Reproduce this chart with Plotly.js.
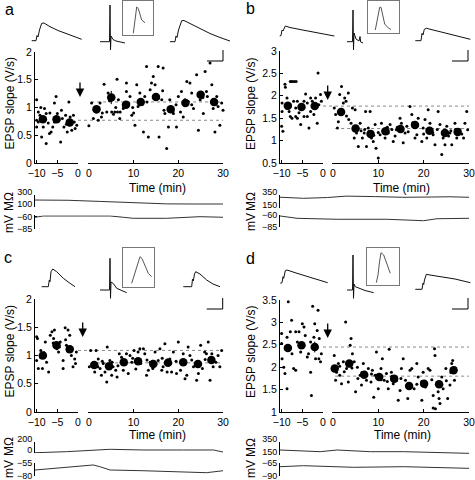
<!DOCTYPE html>
<html><head><meta charset="utf-8">
<script src="https://cdn.plot.ly/plotly-3.0.1.min.js"></script>
<style>html,body{margin:0;padding:0;background:#fff}#chart{width:475px;height:480px}</style>
</head><body><div id="chart"></div>
<script>
// ---------------- DATA ----------------
// Panel a
const aDotsPre = [[-10,1.14],[-9.6,0.92],[-9.2,0.86],[-10,0.65],[-10,0.77],[-7.7,0.89],[-8.1,0.98],[-8.8,0.47],[-7.7,0.35],[-6.5,0.56],[-6.1,0.65],[-5.3,1.2],[-5.7,1.08],[-4.6,0.77],[-4.2,0.38],[-3.4,0.65],[-3.8,0.8],[-3.0,0.86],[-2.2,1.1],[-1.9,0.83],[-1.1,0.86],[-1.5,0.59],[-0.7,0.62],[-0.3,0.68],[-2.6,0.56],[-6.9,0.53],[-5.7,0.74],[-5.0,0.89],[-9.6,0.74],[-8.4,0.65],[-8.7,0.82],[-8.0,0.78],[-5.2,0.82],[-4.8,0.75],[-2.3,0.72],[-1.7,0.76],[-9.0,1.0],[-7.2,0.72],[-6.8,0.9],[-4.0,0.95],[-2.8,0.7],[-0.9,0.74]];
const aDotsPost = [[0,0.67],[0.6,1.08],[1.0,0.80],[1.7,0.92],[2.1,0.77],[2.8,0.83],[3.4,1.42],[2.5,1.08],[4.0,0.92],[4.3,1.26],[5.1,0.92],[5.8,0.92],[6.3,1.51],[6.6,1.14],[6.9,0.80],[7.7,0.98],[8.4,1.44],[8.4,1.29],[9.2,1.20],[9.6,0.86],[10.3,0.68],[10.7,1.41],[11.0,1.02],[11.4,1.26],[12.2,0.56],[12.5,1.20],[12.9,1.74],[13.3,0.47],[13.7,1.32],[14.0,1.44],[14.4,1.56],[14.8,1.41],[15.5,1.74],[15.7,0.47],[16.3,1.14],[16.6,1.71],[17.0,0.89],[17.4,0.26],[17.8,0.65],[18.1,1.14],[18.9,0.89],[19.6,0.65],[20.0,1.20],[20.7,1.29],[21.1,0.83],[21.5,1.14],[21.9,1.47],[22.6,1.44],[23.0,1.26],[23.4,0.98],[24.1,1.59],[24.5,0.59],[24.9,1.14],[25.6,0.89],[26.0,1.65],[26.3,1.29],[27.1,1.80],[27.5,1.41],[27.8,0.98],[28.2,0.56],[28.6,1.20],[28.9,1.02],[29.3,0.68],[29.7,1.08],[30,0.95],[1.2,0.95],[2.2,0.99],[4.6,1.12],[5.3,1.22],[7.8,1.02],[8.9,1.07],[11.2,1.12],[12.0,1.06],[14.6,1.22],[15.5,1.16],[18.0,0.99],[18.8,0.93],[21.3,1.06],[22.2,1.11],[24.6,1.25],[25.5,1.18],[27.6,1.12],[28.4,1.06],[3.0,0.90],[6.0,1.00],[9.8,1.00],[13.0,1.10],[16.5,1.30],[19.5,1.05],[23.0,1.05],[26.5,1.20],[10.0,0.90],[20.5,0.92],[5.5,0.88],[16.8,0.95],[6.4,0.92],[7.0,0.92]];
const aMeanT = [-8.5,-5.2,-2,1.7,5,8.3,11.6,15,18.3,21.6,25,28];
const aMeanV = [0.79,0.79,0.73,0.97,1.18,1.05,1.10,1.19,0.97,1.08,1.23,1.10];
const aMeanErr = [0.04,0.05,0.05,0.05,0.12,0.05,0.04,0.06,0.05,0.05,0.05,0.06];
const aBaseline = 0.77, aPostLevel = 1.10;
const aRinT = [-10,-3,4,11,18,24,30];
const aRin = [214,210,190,168,148,146,146];
const aVmT = [-10,-8.2,0.3,6,8.8,10.9,18,22.3,25.1,30];
const aVm = [-61.2,-58.6,-58.6,-58.6,-61.2,-63.3,-63.3,-62,-60,-61.2];
const aWavePre = [[1.7,3.3],[6,3.3],[7,8.5],[8,7],[9.5,14],[11.7,20.7],[14,21],[20,17.3],[28,13.5],[36.7,10],[44,7.2],[51.7,4.7]];
const aWaveSpike = [[2,10.3],[11.5,10.3],[12,47],[12.5,2],[13,16],[15,12.5],[18,11],[27,9]];
const aWaveInset = [[10.6,1.7],[12.3,15],[14,28],[15.6,26.5],[17.3,20],[19,15],[22.3,12.3]];
const aWavePost = [[2,2.3],[7,2.3],[8,8],[9,6.5],[10.5,14],[13.7,23.3],[16,23.5],[22,20.5],[32,15],[42,10.5],[52,6.5],[62,3]];

// Panel b
const bDotsPre = [[-10,1.32],[-9.9,1.65],[-9.7,1.21],[-9.2,2.26],[-9.1,2.19],[-8.7,1.95],[-7.9,2.32],[-7.5,2.32],[-7.0,2.32],[-6.5,2.32],[-8.2,1.65],[-7.9,1.54],[-7.1,1.88],[-6.6,1.73],[-6.2,1.5],[-5.8,1.62],[-5.4,1.36],[-4.6,1.54],[-4.2,2.04],[-3.8,1.84],[-3.4,1.28],[-3.0,1.65],[-3.0,1.95],[-2.6,1.88],[-2.2,1.58],[-1.4,1.39],[-1.2,2.51],[-1.0,1.8],[-0.6,2.03],[-0.4,1.88],[-7.5,1.5],[-6.6,1.54],[-6.2,1.88],[-4.6,1.88],[-3.8,1.54],[-9.9,1.84],[-8.8,1.72],[-5.0,1.7],[-2.0,1.72],[-1.8,1.95]];
const bDotsPost = [[0.3,1.73],[0.6,1.58],[1.0,1.28],[1.2,1.42],[1.5,2.03],[1.9,2.21],[2.3,1.84],[2.6,1.95],[2.9,1.88],[3.4,2.06],[3.5,1.47],[4.0,1.39],[4.3,1.73],[4.7,1.06],[4.9,1.69],[5.2,1.17],[5.6,0.87],[6.0,1.39],[6.5,1.06],[6.9,1.17],[7.2,1.65],[7.4,0.87],[7.8,1.28],[8.2,1.65],[8.5,1.06],[8.9,0.98],[9.3,1.36],[9.5,0.83],[10.0,0.61],[10.4,1.13],[10.7,1.39],[11.5,1.06],[11.8,1.28],[12.2,1.17],[12.6,1.36],[13.3,0.98],[13.7,1.10],[14.0,1.24],[14.8,1.50],[15.1,1.39],[15.5,0.95],[15.9,1.17],[16.3,1.32],[17.0,1.76],[17.4,1.58],[17.7,1.32],[18.1,1.06],[18.5,1.13],[18.8,1.50],[19.6,0.98],[19.9,1.28],[20.3,1.47],[20.7,1.06],[21.0,1.69],[21.4,1.39],[22.1,1.13],[22.5,0.91],[23.2,1.65],[23.6,1.36],[24.0,0.69],[24.3,1.06],[24.7,0.91],[25.1,1.32],[25.8,1.17],[26.2,0.91],[26.9,1.39],[27.3,1.06],[28.0,1.24],[28.8,1.06],[29.1,1.39],[29.5,1.65],[29.7,1.24],[5.4,1.30],[6.2,1.22],[8.0,1.20],[9.0,1.12],[11.0,1.22],[12.0,1.30],[14.2,1.30],[15.3,1.22],[17.6,1.40],[18.4,1.32],[21.0,1.25],[22.0,1.18],[24.2,1.20],[25.5,1.10],[27.0,1.25],[28.4,1.15],[2.0,1.70],[3.0,1.55],[7.0,1.25],[10.0,1.18],[13.0,1.25],[16.6,1.20],[20.0,1.15],[23.0,1.25],[26.0,1.22]];
const bMeanT = [-8.5,-5.2,-2,1.8,5.0,8.3,11.6,14.9,18.1,21.3,24.7,27.5];
const bMeanV = [1.78,1.75,1.77,1.64,1.27,1.15,1.21,1.26,1.35,1.22,1.17,1.19];
const bMeanErr = [0.06,0.05,0.08,0.06,0.05,0.04,0.04,0.04,0.05,0.05,0.04,0.04];
const bBaseline = 1.77, bPostLevel = 1.27;
const bRinT = [-10,-5,0,4,10,16,22,26,30];
const bRin = [315,298,310,332,325,314,318,322,314];
const bVmT = [-10,-6.4,2.1,12.6,20.4,23.2,30];
const bVm = [-62,-66.7,-68.7,-68.7,-71.6,-67.6,-66.7];
const bWavePre = [[2.7,4],[4,4.5],[5,10],[6,9],[8.3,14],[13,12.5],[23,10.5],[33,8.5],[43,6.5],[57.3,4]];
const bWaveSpike = [[2,10.3],[7.5,10.3],[8,42],[8.5,2],[9,19],[11,13],[14,11],[15,15.5],[15.7,10],[18,9]];
const bWaveInset = [[7.3,2.7],[9.7,14.4],[11.7,25.4],[13,25.4],[14.7,16],[16.7,8.7],[20.7,4.4],[23,3.4]];
const bWavePost = [[2.3,2.3],[8,2.3],[9,9.7],[10,8],[11.3,13.7],[13.3,14.7],[35,9.3],[57.3,3.7]];

// Panel c
const cDotsPre = [[-10,1.33],[-9.8,1.30],[-10,0.91],[-9.6,0.77],[-9.0,1.09],[-8.6,0.77],[-7.9,1.24],[-7.6,0.88],[-7.1,0.71],[-6.7,1.36],[-6.3,1.42],[-5.9,1.30],[-5.7,1.45],[-5.1,1.12],[-4.7,1.06],[-4.3,1.24],[-3.6,0.91],[-3.6,0.77],[-3.1,1.49],[-2.8,1.18],[-2.4,1.45],[-2.0,1.36],[-1.6,1.00],[-1.2,0.80],[-0.8,0.94],[-0.6,0.86],[-0.4,1.06],[-5.0,1.20],[-4.5,1.15],[-2.5,1.08],[-1.8,1.15],[-8.2,1.05],[-9.0,0.96],[-6.0,1.22],[-3.0,1.28]];
const cDotsPost = [[0.1,0.80],[0.4,1.09],[0.8,0.86],[1.3,0.71],[1.6,1.09],[2.1,0.94],[2.5,0.77],[2.8,0.65],[3.2,0.86],[3.6,0.71],[4.0,0.53],[4.1,1.15],[4.7,0.91],[5.1,0.65],[5.4,0.80],[6.0,0.74],[6.3,0.62],[6.8,1.03],[7.3,0.97],[7.7,0.74],[8.4,1.03],[8.8,0.68],[9.2,1.00],[9.6,0.88],[10.1,1.09],[10.5,0.76],[11.0,1.06],[11.4,1.12],[12.2,1.12],[12.5,1.03],[12.9,0.65],[13.3,0.74],[13.7,0.88],[14.3,0.77],[14.8,1.06],[15.5,0.91],[15.9,1.12],[16.3,0.74],[16.6,0.80],[17.0,1.21],[17.5,0.71],[18.1,0.94],[18.5,0.71],[18.9,1.06],[19.6,0.68],[20.0,1.24],[20.5,0.74],[21.1,1.03],[21.5,0.59],[21.9,0.65],[22.2,1.15],[22.6,1.00],[23.4,0.80],[24.1,0.56],[24.5,0.68],[25.0,1.18],[25.4,0.77],[25.9,1.06],[26.3,1.03],[26.7,1.24],[27.1,0.56],[27.5,1.03],[27.8,0.80],[28.4,0.88],[28.9,1.00],[29.3,0.80],[29.7,1.09],[1.5,0.86],[2.0,0.80],[4.5,0.84],[5.2,0.88],[7.5,0.92],[8.3,0.85],[10.8,0.93],[11.6,0.86],[14.2,0.90],[15.0,0.85],[17.5,0.92],[18.3,0.86],[20.7,0.90],[21.5,0.85],[24.0,0.88],[24.8,0.82],[27.0,0.95],[28.0,0.90],[3.0,0.90],[6.5,0.82],[9.8,0.95],[13.0,0.92],[16.4,0.95],[19.5,0.90],[23.0,0.92],[26.0,0.93]];
const cMeanT = [-8.5,-5.2,-2,1.2,4.5,7.8,11.0,14.4,17.7,21.1,24.4,27.4];
const cMeanV = [1.00,1.18,1.11,0.83,0.81,0.88,0.90,0.85,0.87,0.88,0.85,0.92];
const cMeanErr = [0.05,0.06,0.06,0.03,0.04,0.03,0.03,0.03,0.03,0.03,0.03,0.04];
const cBaseline = 1.09, cPostLevel = 0.87;
const cRinT = [-10,-3.3,6,13,21.6,28,30];
const cRin = [10,28,69,57,57,57,22];
const cVmT = [-10,-3.3,2.4,3.8,6,13,21.6,26.5,30];
const cVm = [-68.2,-62.9,-58.3,-61.7,-68.2,-69.6,-71.5,-73.5,-69.6];
const cWavePre = [[2.7,2.3],[9.3,2.3],[10.3,9],[11,7.3],[12,17.3],[13.7,20],[17.7,17.3],[24.3,10.7],[31,5.7],[36,2.3]];
const cWaveSpike = [[2,10],[11.5,10],[12,41.7],[12.5,1.7],[13,18],[15.3,16.5],[18.7,11.7],[28.7,7.3]];
const cWaveInset = [[9,4],[12.3,15.3],[15.3,26.3],[17.3,30.6],[19.3,28.8],[22.3,21.3],[25.6,14],[29,10.6]];
const cWavePost = [[2.3,2.3],[10.7,2.3],[11.5,10],[12.3,8],[13.5,15],[14.7,17.3],[19,15],[25.7,9],[32,5],[39,2.3]];

// Panel d
const dDotsPre = [[-10,2.75],[-10,2.53],[-9.9,2.19],[-9.5,2.00],[-9.2,1.86],[-8.7,1.52],[-8.4,3.46],[-8.7,2.67],[-7.9,2.79],[-7.6,3.05],[-7.5,2.30],[-7.1,1.97],[-6.6,1.93],[-6.2,2.56],[-5.8,2.79],[-5.4,2.34],[-5.0,2.97],[-4.6,2.90],[-4.3,2.71],[-3.8,2.23],[-3.5,2.30],[-3.0,1.89],[-2.8,1.37],[-2.5,3.36],[-2.2,2.67],[-2.0,2.97],[-1.8,2.19],[-1.4,2.82],[-1.2,3.27],[-1.0,2.19],[-0.9,2.64],[-0.6,2.12],[-0.4,2.30],[-3.0,2.56],[-6.6,2.79],[-9.0,2.45]];
const dDotsPost = [[0.3,2.26],[0.6,1.71],[0.8,1.89],[1.2,2.08],[1.5,1.82],[1.9,1.63],[2.3,2.12],[2.8,3.01],[3.0,1.97],[3.4,1.67],[3.8,2.49],[4.0,2.64],[4.3,2.30],[4.7,2.12],[5.0,1.45],[5.4,2.00],[6.0,1.82],[6.3,1.60],[6.7,2.08],[7.1,1.89],[7.4,1.71],[7.8,1.97],[8.4,1.67],[8.7,1.93],[9.0,1.33],[9.3,1.82],[9.6,2.34],[10.0,1.52],[10.6,1.97],[10.9,2.19],[11.3,1.71],[11.8,1.86],[12.2,1.52],[12.4,2.40],[12.9,1.89],[13.3,1.63],[13.8,1.78],[14.4,1.26],[14.8,1.48],[15.1,1.97],[15.5,2.19],[16.0,1.71],[16.5,1.30],[17.0,1.93],[17.4,1.97],[17.9,1.52],[18.5,2.08],[18.8,1.78],[19.6,1.26],[19.9,1.89],[20.4,1.56],[21.0,1.97],[21.4,1.93],[22.1,1.37],[22.4,2.41],[22.5,2.26],[22.9,1.63],[23.2,1.45],[23.4,1.30],[22.1,1.09],[22.6,1.07],[23.6,1.19],[24.0,1.78],[24.3,1.52],[24.9,1.97],[25.3,1.30],[25.8,1.60],[26.2,2.08],[26.4,2.15],[26.8,1.71],[27.1,1.93],[0.8,1.98],[1.5,2.02],[3.2,2.10],[4.2,1.98],[6.4,1.88],[7.2,1.80],[9.8,1.80],[10.6,1.72],[13.0,1.80],[14.0,1.70],[16.4,1.62],[17.2,1.58],[19.6,1.68],[20.6,1.60],[23.0,1.66],[24.0,1.60],[26.0,1.88],[27.0,1.98],[2.5,1.90],[5.5,1.75],[8.5,1.85],[12.0,1.68],[15.0,1.75],[18.5,1.62],[21.8,1.72],[25.0,1.70]];
const dMeanT = [-8.5,-5.2,-2,0.4,3.6,6.9,10.2,13.5,16.8,20.1,23.4,26.6];
const dMeanV = [2.43,2.49,2.45,1.97,2.08,1.83,1.78,1.74,1.58,1.63,1.62,1.93];
const dMeanErr = [0.08,0.06,0.12,0.05,0.07,0.05,0.05,0.05,0.05,0.05,0.05,0.07];
const dBaseline = 2.45, dPostLevel = 1.80;
const dRinT = [-10,-1.5,2.1,9.1,16.2,23.2,30];
const dRin = [225,200,225,200,200,185,175];
const dVmT = [-10,-5,5.6,16.2,30];
const dVm = [-71.7,-69.7,-72.9,-71.7,-74.9];
const dWavePre = [[2.3,2.7],[4,3.3],[5,9.3],[5.7,7.7],[7.3,15.3],[9,16],[19,12.7],[32.3,8.3],[49.7,3.3]];
const dWaveSpike = [[2,10],[7.5,10],[8,45],[8.5,1.7],[9,16],[10.3,13.3],[13.7,11.7],[20,9.5],[28.7,7.3]];
const dWaveInset = [[9.3,2.3],[11,10],[12.5,23],[14,32.3],[16.7,30],[19,23],[21,18],[23.3,11.7]];
const dWavePost = [[2.3,2.7],[9,2.7],[10,9],[10.7,7.5],[11.5,12],[13.3,17.7],[17,17],[27,15.2],[42,13],[57.3,9.3]];

const yTitle = 'EPSP slope (V/s)', xTitle = 'Time (min)', rinTitle = 'MΩ', vmTitle = 'mV';
const preTicks = [-10,-5,0], postTicks = [0,10,20,30];

// ---------------- LAYOUT (pixel boxes) ----------------
const W = 475, H = 480;
const fx = p => p / W, fy = p => 1 - p / H;
const FONT = 'Liberation Sans, Arial, Helvetica, sans-serif';

const panels = [
  {letter:'a', dotsPre:aDotsPre, dotsPost:aDotsPost, mT:aMeanT, mV:aMeanV, mE:aMeanErr, base:aBaseline, post:aPostLevel,
   rinT:aRinT, rin:aRin, vmT:aVmT, vm:aVm, waves:[aWavePre,aWaveSpike,aWaveInset,aWavePost],
   L:[35,78], R:[88,223], Y:[52,163], yr:[0,2], yt:[0,0.5,1,1.5,2],
   rinBox:[195,206.7], rinR:[100,300], vmBox:[215.2,229], vmR:[-85,-57], vmTicks:[-85,-60],
   boxes:[[30,84,20,44],[98,128,3,52],[122.7,153.3,0.5,35],[168,232,18,44]],
   bar:[207,223,50,61], arrow:[80,97], letterPos:[2.5,9], yTitlePos:[9.5,104], xTitlePos:[157,187.5], rinPos:[9,202], vmPos:[9,224]},
  {letter:'b', dotsPre:bDotsPre, dotsPost:bDotsPost, mT:bMeanT, mV:bMeanV, mE:bMeanErr, base:bBaseline, post:bPostLevel,
   rinT:bRinT, rin:bRin, vmT:bVmT, vm:bVm, waves:[bWavePre,bWaveSpike,bWaveInset,bWavePost],
   L:[280,323], R:[332,469], Y:[51,163], yr:[0.5,3], yt:[0.5,1,1.5,2,2.5,3],
   rinBox:[195,207.7], rinR:[150,350], vmBox:[215,227.3], vmR:[-85,-60], vmTicks:[-85,-60],
   boxes:[[277,337,22,40],[345,366,8,52],[368,398.7,0.5,32.7],[413,472,25,43]],
   bar:[452,468,50,61], arrow:[327.7,100], letterPos:[243.5,8.5], yTitlePos:[251,104], xTitlePos:[401.5,187.5], rinPos:[251,201], vmPos:[251,222]},
  {letter:'c', dotsPre:cDotsPre, dotsPost:cDotsPost, mT:cMeanT, mV:cMeanV, mE:cMeanErr, base:cBaseline, post:cPostLevel,
   rinT:cRinT, rin:cRin, vmT:cVmT, vm:cVm, waves:[cWavePre,cWaveSpike,cWaveInset,cWavePost],
   L:[35,78], R:[88,223], Y:[299,412], yr:[0,2], yt:[0,0.5,1,1.5,2],
   rinBox:[441.7,453.3], rinR:[0,200], vmBox:[463.3,476], vmR:[-80,-55], vmTicks:[-80,-55],
   boxes:[[39,78,265,289],[98,130,256,300],[122.7,154,248.3,287.3],[181,223,268,289]],
   bar:[206.7,222.7,298,309], arrow:[82.7,337], letterPos:[1.5,257.5], yTitlePos:[9.5,352], xTitlePos:[157,435], rinPos:[9,447], vmPos:[9,469]},
  {letter:'d', dotsPre:dDotsPre, dotsPost:dDotsPost, mT:dMeanT, mV:dMeanV, mE:dMeanErr, base:dBaseline, post:dPostLevel,
   rinT:dRinT, rin:dRin, vmT:dVmT, vm:dVm, waves:[dWavePre,dWaveSpike,dWaveInset,dWavePost],
   L:[280,323], R:[332,469], Y:[300,412], yr:[1,3.5], yt:[1,1.5,2,2.5,3,3.5],
   rinBox:[441.7,455], rinR:[150,350], vmBox:[463.3,476], vmR:[-90,-65], vmTicks:[-90,-65],
   boxes:[[278,330,267,286],[345,376,253,300],[367,398.7,248.3,285],[413,473,271,292]],
   bar:[452,468,298,309], arrow:[327.7,338], letterPos:[243.5,258.5], yTitlePos:[251,352], xTitlePos:[402,435], rinPos:[251,447], vmPos:[251,469]}
];

const layout = {width:W, height:H, margin:{l:0,r:0,t:0,b:0,pad:0}, paper_bgcolor:'#fff', plot_bgcolor:'rgba(0,0,0,0)',
  showlegend:false, hovermode:false, font:{family:FONT, size:11, color:'#000'}, shapes:[], annotations:[]};
const traces = [];
let xn = 0, yn = 0;
function newX(){ xn++; return xn===1 ? 'x' : 'x'+xn; }
function newY(){ yn++; return yn===1 ? 'y' : 'y'+yn; }
const key = id => id.length===1 ? id+'axis' : id[0]+'axis'+id.slice(1);
const hidden = {showline:false, showgrid:false, zeroline:false, showticklabels:false, ticks:'', fixedrange:true};
const shown = {showline:true, linecolor:'#000', linewidth:1, showgrid:false, zeroline:false, ticks:'inside', ticklen:3, tickcolor:'#000',
  tickfont:{size:10.5, family:FONT}, fixedrange:true, ticklabeloverflow:'allow'};

panels.forEach(p => {
  const xL = newX(), xR = newX(), yM = newY();
  layout[key(xL)] = Object.assign({}, shown, {domain:[fx(p.L[0]),fx(p.L[1])], range:[-10.4,0], tickvals:preTicks, anchor:yM});
  layout[key(xR)] = Object.assign({}, shown, {domain:[fx(p.R[0]),fx(p.R[1])], range:[-0.2,30], tickvals:postTicks, anchor:yM});
  layout[key(yM)] = Object.assign({}, shown, {domain:[fy(p.Y[1]),fy(p.Y[0])], range:p.yr, tickvals:p.yt, anchor:xL});

  const dot = {type:'scatter', mode:'markers', marker:{size:3, color:'#000', line:{width:0}}, hoverinfo:'skip', cliponaxis:false};
  traces.push(Object.assign({}, dot, {x:p.dotsPre.map(d=>d[0]), y:p.dotsPre.map(d=>d[1]), xaxis:xL, yaxis:yM}));
  traces.push(Object.assign({}, dot, {x:p.dotsPost.map(d=>d[0]), y:p.dotsPost.map(d=>d[1]), xaxis:xR, yaxis:yM}));
  const nPre = p.mT.filter(t=>t<0).length;
  const big = {type:'scatter', mode:'markers', marker:{size:8.5, color:'#000'}, hoverinfo:'skip', cliponaxis:false};
  traces.push(Object.assign({}, big, {x:p.mT.slice(0,nPre), y:p.mV.slice(0,nPre), xaxis:xL, yaxis:yM,
    error_y:{type:'data', array:p.mE.slice(0,nPre), thickness:1, width:0, color:'#000'}}));
  traces.push(Object.assign({}, big, {x:p.mT.slice(nPre), y:p.mV.slice(nPre), xaxis:xR, yaxis:yM,
    error_y:{type:'data', array:p.mE.slice(nPre), thickness:1, width:0, color:'#000'}}));

  layout.shapes.push({type:'line', xref:'paper', yref:yM, x0:fx(p.L[1]), x1:fx(p.R[1]), y0:p.base, y1:p.base, line:{color:'#888', width:1, dash:'dot'}, layer:'below'});
  layout.shapes.push({type:'line', xref:xR, yref:yM, x0:0.5, x1:30, y0:p.post, y1:p.post, line:{color:'#888', width:1, dash:'dot'}, layer:'below'});

  const xB = newX(), yRin = newY(), yVm = newY();
  layout[key(xB)] = Object.assign({}, hidden, {domain:[fx(p.L[0]),fx(p.R[1])], range:[-10,30], anchor:yVm});
  const small = Object.assign({}, shown, {ticklen:2, tickfont:{size:9, family:FONT}});
  layout[key(yRin)] = Object.assign({}, small, {domain:[fy(p.rinBox[1]),fy(p.rinBox[0])], range:p.rinR, tickvals:p.rinR, anchor:xB, ticklabelshift:-3});
  layout[key(yVm)] = Object.assign({}, small, {domain:[fy(p.vmBox[1]),fy(p.vmBox[0])], range:p.vmR, tickvals:p.vmTicks, anchor:xB});
  traces.push({type:'scatter', mode:'lines', x:p.rinT, y:p.rin, xaxis:xB, yaxis:yRin, line:{color:'#333', width:1}, hoverinfo:'skip'});
  traces.push({type:'scatter', mode:'lines', x:p.vmT, y:p.vm, xaxis:xB, yaxis:yVm, line:{color:'#333', width:1}, hoverinfo:'skip'});

  p.waves.forEach((w, i) => {
    const b = p.boxes[i];
    const xw = newX(), yw = newY();
    const isInset = i === 2;
    const ax = isInset ? {showline:true, mirror:true, linecolor:'#777', linewidth:1, showgrid:false, zeroline:false, showticklabels:false, ticks:'', fixedrange:true} : hidden;
    layout[key(xw)] = Object.assign({}, ax, {domain:[fx(b[0]),fx(b[1])], range:[0,b[1]-b[0]], anchor:yw});
    layout[key(yw)] = Object.assign({}, ax, {domain:[fy(b[3]),fy(b[2])], range:[0,b[3]-b[2]], anchor:xw});
    traces.push({type:'scatter', mode:'lines', x:w.map(d=>d[0]), y:w.map(d=>d[1]), xaxis:xw, yaxis:yw,
      line:{color:isInset?'#555':'#111', width:1}, hoverinfo:'skip'});
  });

  const s = p.bar;
  layout.shapes.push({type:'line', xref:'paper', yref:'paper', x0:fx(s[0]), x1:fx(s[1]), y0:fy(s[3]), y1:fy(s[3]), line:{color:'#000', width:1}});
  layout.shapes.push({type:'line', xref:'paper', yref:'paper', x0:fx(s[1]), x1:fx(s[1]), y0:fy(s[2]), y1:fy(s[3]), line:{color:'#000', width:1}});

  layout.annotations.push({xref:'paper', yref:'paper', x:fx(p.arrow[0]), y:fy(p.arrow[1]), ax:0, ay:-16, text:'', showarrow:true,
    arrowhead:2, arrowsize:1.3, arrowwidth:1.3, arrowcolor:'#000'});
  const txt = (pos, text, opts) => Object.assign({xref:'paper', yref:'paper', x:fx(pos[0]), y:fy(pos[1]), xanchor:'center', yanchor:'middle',
    text:text, showarrow:false, font:{size:12, family:FONT, color:'#000'}}, opts||{});
  layout.annotations.push(txt(p.letterPos, p.letter, {xanchor:'left', font:{size:16, family:FONT, color:'#000'}}));
  layout.annotations.push(txt(p.yTitlePos, yTitle, {textangle:-90}));
  layout.annotations.push(txt(p.xTitlePos, xTitle));
  layout.annotations.push(txt(p.rinPos, rinTitle, {textangle:-90}));
  layout.annotations.push(txt(p.vmPos, vmTitle, {textangle:-90}));
});

Plotly.newPlot('chart', traces, layout, {staticPlot:true, displayModeBar:false});
</script></body></html>
